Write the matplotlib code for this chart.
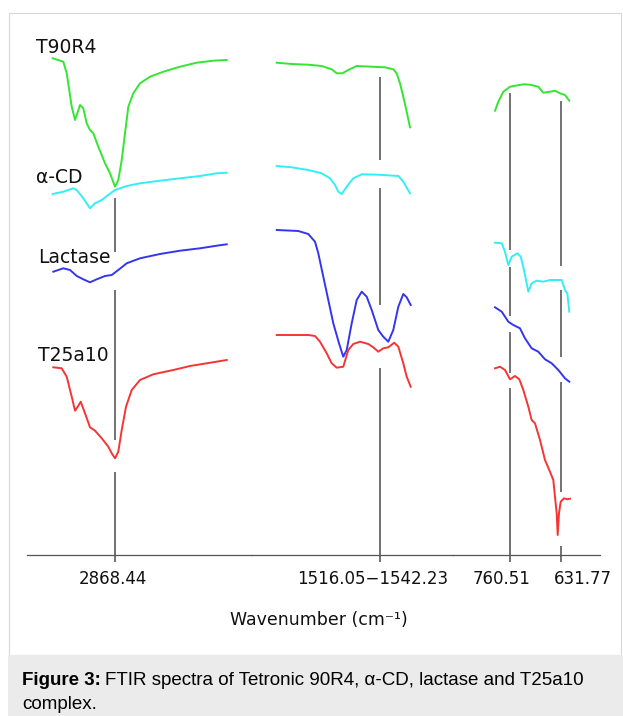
import matplotlib
matplotlib.use("Agg")
import matplotlib.pyplot as plt
from matplotlib.patches import Rectangle

# ---------------- data ----------------
series_names = ["T90R4", "α-CD", "Lactase", "T25a10"]
series_colors = ["#33e633", "#33eef5", "#3535f0", "#f53535"]

# wavenumber (cm-1) / transmittance (arbitrary, offset) -- region 1 (C-H stretch)
t90r4_x1 = [3025.5, 2998.8, 2990.2, 2977.6, 2969.3, 2963.5, 2956.7, 2948.4, 2939.8, 2931.5, 2923.2, 2910.6, 2893.7,
            2881.1, 2868.5, 2860.2, 2851.6, 2843.3, 2835.0, 2822.4, 2805.5, 2780.3, 2746.8, 2704.7, 2662.6, 2620.8, 2587.0]
t90r4_y1 = [496.7, 493.3, 481.7, 448.3, 435, 441.7, 450, 446.7, 431.7, 425, 421.7, 408.3, 391.7,
            381.7, 368.3, 375, 395, 421.7, 448.3, 461.7, 471.7, 478.3, 483.3, 488.3, 492.3, 494.3, 495]
acd_x1 = [3025.5, 2998.8, 2973.6, 2965.0, 2948.4, 2931.5, 2918.9, 2902.0, 2885.4, 2868.5, 2839.0, 2805.5, 2755.1,
          2704.7, 2654.3, 2612.2, 2587.0]
acd_y1 = [361, 363.3, 366.7, 365, 356.7, 346.7, 351.7, 355, 360, 365, 369, 371.7, 374.3, 376.7, 379, 381.7, 382.3]
lac_x1 = [3024.0, 2998.8, 2981.9, 2965.0, 2948.4, 2931.5, 2914.6, 2893.7, 2876.8, 2860.2, 2839.0, 2805.5, 2755.1,
          2704.7, 2654.3, 2612.2, 2587.0]
lac_y1 = [283.3, 286.7, 285, 279, 275.7, 272.7, 275.7, 279, 280, 285, 291.7, 296.7, 301, 304.3, 306.7, 309.3, 310.7]
t25_x1 = [3024.0, 3002.8, 2990.2, 2977.6, 2969.3, 2962.5, 2954.9, 2944.1, 2931.5, 2918.9, 2902.0, 2885.4, 2876.8,
          2868.5, 2860.2, 2851.6, 2840.8, 2826.4, 2805.5, 2772.0, 2721.6, 2679.5, 2637.4, 2587.0]
t25_y1 = [187.7, 186.7, 178.3, 158.3, 144.3, 148.3, 153.3, 141.7, 127.7, 124.3, 116.7, 108.3, 101.7,
          96.7, 103.3, 125, 148.3, 165, 175, 180.7, 185, 189, 191.7, 195]

# region 2 (amide bands)
t90r4_x2 = [1789.4, 1751.6, 1709.8, 1676.0, 1650.8, 1638.2, 1624.1, 1609.0, 1587.8, 1550.0, 1516.5, 1495.6, 1487.0,
            1478.7, 1470.4, 1461.8, 1453.5]
t90r4_y2 = [492.3, 491, 490.3, 489, 485.7, 481.7, 481.7, 485, 489, 488.3, 487.7, 485.7, 481.7, 471.7, 458.3, 443.3, 427.7]
acd_x2 = [1789.4, 1751.6, 1709.8, 1676.0, 1655.1, 1642.5, 1634.2, 1625.6, 1613.0, 1596.4, 1575.2, 1533.4, 1482.9,
          1470.4, 1453.5]
acd_y2 = [389, 387.7, 385, 381.7, 376.7, 370, 363.3, 361, 368.3, 376.7, 380.7, 380.3, 379, 373.3, 361.7]
lac_x2 = [1789.4, 1735.0, 1709.8, 1692.9, 1684.6, 1672.0, 1659.4, 1646.8, 1632.4, 1621.6, 1613.0, 1600.4, 1587.8,
          1575.2, 1562.6, 1550.0, 1533.4, 1520.8, 1508.2, 1495.6, 1482.9, 1470.4, 1461.8, 1451.7]
lac_y2 = [325, 324, 321, 313.3, 301.7, 278.3, 255, 231.7, 211.7, 198.3, 205, 231.7, 255,
          263.3, 258.3, 245, 225, 218.3, 213.3, 225, 248.3, 261, 257.7, 250]
t25_x2 = [1789.4, 1751.6, 1709.8, 1692.9, 1680.3, 1663.4, 1650.8, 1638.2, 1621.6, 1609.0, 1596.4, 1579.5, 1558.6,
          1546.0, 1533.4, 1520.8, 1508.2, 1493.1, 1482.9, 1470.4, 1461.8, 1451.7]
t25_y2 = [220, 220, 220, 219, 213.3, 201.7, 191.7, 187.3, 188.3, 205, 211, 213.3, 211,
          207.7, 203.3, 206.7, 207.7, 212.3, 208.3, 191.7, 178.3, 168.3]

# region 3 (fingerprint)
t90r4_x3 = [797.0, 788.7, 776.1, 759.3, 725.7, 708.9, 688.0, 675.4, 658.5, 645.9, 633.3, 620.7, 609.8]
t90r4_y3 = [444.3, 453.3, 463.3, 468.3, 470.7, 470.3, 468.3, 462.3, 463.3, 464.3, 461.7, 460, 454.3]
acd_x3 = [797.0, 780.1, 771.9, 763.5, 755.0, 740.9, 732.2, 724.0, 713.1, 704.7, 692.1, 675.4, 658.5,
          641.6, 628.9, 620.7, 614.8, 609.8]
acd_y3 = [312.3, 311.7, 303.3, 290, 298.3, 301.7, 298.3, 285, 263.3, 271.7, 274.3, 273.3, 275,
          275, 275, 265, 261.7, 243.3]
lac_x3 = [797.0, 780.1, 763.5, 751.0, 734.1, 721.5, 704.7, 687.9, 671.1, 654.2, 637.5, 620.7, 609.8]
lac_y3 = [247.7, 243.3, 233.3, 230, 226.7, 216.7, 206.7, 203.3, 195.7, 191.7, 185, 176.7, 173.3]
t25_x3 = [797.0, 784.5, 771.9, 759.2, 746.7, 735.8, 725.7, 713.1, 704.7, 696.3, 683.6, 671.1, 658.5,
          650.1, 645.9, 641.6, 639.1, 635.8, 631.5, 623.2, 614.8, 608.1]
t25_y3 = [186.7, 188.3, 185, 175.7, 179, 175.7, 165, 148.3, 135, 131.7, 115, 95, 83.3,
          75, 58.3, 41.7, 20, 41.7, 53.3, 56.7, 55.7, 56.3]

# marked peaks and the (broken) extent of their guide lines
marker_wn = [2868.44, 1529.14, 760.51, 631.77]
marker_labels = ["2868.44", "1516.05\u22121542.23", "760.51", "631.77"]
marker_segments = [
    [(357, 303), (265, 115), (83, -7)],
    [(478, 395), (367, 250), (187, -7)],
    [(462, 305), (288, 239), (223, 182), (167, -7)],
    [(454, 289), (265, 198), (173, 63), (9, -7)],
]

# ---------------- figure ----------------
W, H, DPI = 623, 716, 100
fig = plt.figure(figsize=(W / DPI, H / DPI), dpi=DPI)
fig.patch.set_facecolor("white")


def fx(px):
    return px / W


def fy(py):
    return 1 - py / H


# outer frame and caption box
fig.patches.append(Rectangle((fx(8.5), fy(655)), fx(621) - fx(8.5), fy(12.5) - fy(655),
                             transform=fig.transFigure, fill=False, ec="#d8d8d8", lw=0.8, zorder=0))
fig.patches.append(Rectangle((fx(8), 0), 1 - fx(8), fy(655), transform=fig.transFigure,
                             fc="#ebebeb", ec="none", zorder=0))

AX_TOP, AX_BOT = 20, 570
panels = [(27, 252, (3090.3, 2523.3)), (252, 453, (1851.7, 1345.1)), (453, 600, (902.9, 532.45))]
axes = []
for left, right, xl in panels:
    ax = fig.add_axes([fx(left), fy(AX_BOT), (right - left) / W, (AX_BOT - AX_TOP) / H])
    ax.set_xlim(*xl)
    ax.set_ylim(-15, 535)
    ax.patch.set_alpha(0)
    for s in ("top", "left", "right"):
        ax.spines[s].set_visible(False)
    ax.spines["bottom"].set_position(("data", 0))
    ax.spines["bottom"].set_color("#555555")
    ax.spines["bottom"].set_linewidth(0.9)
    ax.set_xticks([])
    ax.set_yticks([])
    axes.append(ax)

xs = [[t90r4_x1, t90r4_x2, t90r4_x3], [acd_x1, acd_x2, acd_x3], [lac_x1, lac_x2, lac_x3], [t25_x1, t25_x2, t25_x3]]
ys = [[t90r4_y1, t90r4_y2, t90r4_y3], [acd_y1, acd_y2, acd_y3], [lac_y1, lac_y2, lac_y3], [t25_y1, t25_y2, t25_y3]]
for name, color, sx, sy in zip(series_names, series_colors, xs, ys):
    for ax, x, y in zip(axes, sx, sy):
        ax.plot(x, y, color=color, lw=1.4, zorder=3, solid_joinstyle="round")


def axis_for(wn):
    for ax in axes:
        a, b = ax.get_xlim()
        if min(a, b) <= wn <= max(a, b):
            return ax


label_dx = [-2.5, -7.5, -8, 22]  # label offsets in px
for wn, lab, segs, dx in zip(marker_wn, marker_labels, marker_segments, label_dx):
    ax = axis_for(wn)
    for top, bot in segs:
        ax.vlines(wn, bot, top, color="#5a5a5a", lw=1.2, zorder=2)
    ax.annotate(lab, xy=(wn, 0), xycoords="data", xytext=(dx * 0.72, -17.3), textcoords="offset points",
                ha="center", va="center", fontsize=12, color="#111111", annotation_clip=False)

# series labels
label_pos = [(36, 53), (36, 183), (38, 263), (38, 361)]
for name, (px, py) in zip(series_names, label_pos):
    fig.text(fx(px), fy(py), name, fontsize=13.5, va="baseline", ha="left", color="#111111")

fig.text(fx(319), fy(620), "Wavenumber (cm\u207b\u00b9)", fontsize=12.5, ha="center", va="center", color="#111111")

# caption
cap_font = "Liberation Sans"
cap_size = 13.5
t1 = fig.text(fx(22), fy(685), "Figure 3:", fontsize=cap_size, fontweight="bold", family=cap_font, va="baseline")
fig.canvas.draw()
bb = t1.get_window_extent(renderer=fig.canvas.get_renderer())
fig.text(bb.x1 / W + fx(4), fy(685), "FTIR spectra of Tetronic 90R4, \u03b1-CD, lactase and T25a10",
         fontsize=cap_size, family=cap_font, va="baseline")
fig.text(fx(22), fy(709), "complex.", fontsize=cap_size, family=cap_font, va="baseline")

fig.savefig("out.png", dpi=DPI)
